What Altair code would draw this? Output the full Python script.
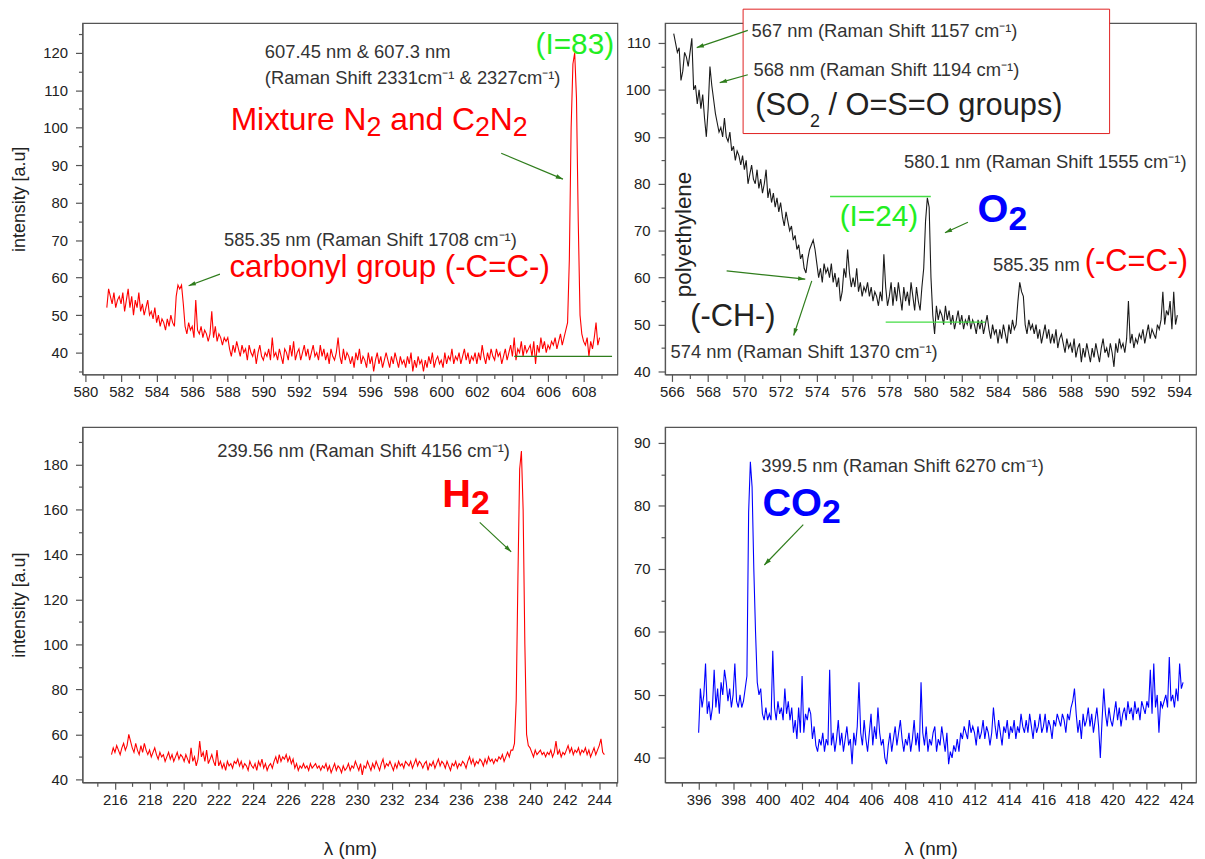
import altair as alt
import pandas as pd

FONT = "Liberation Sans"
GRAY = "#333333"
RED = "#ff0000"
BLUE = "#0000ff"
GREEN = "#22ee22"
DKGREEN = "#2f7d1c"
STEP = 0.1

# ---------------- data (0.1 nm sampling) ----------------
tl_x0 = 581.2
tl_y = [52, 57, 55, 53, 56, 52, 54, 55,
        53, 56, 51, 54, 57, 52, 55, 50, 54, 52,
        56, 51, 53, 50, 52, 54, 50, 51, 49, 52,
        48, 50, 47, 49, 48, 46, 49, 47, 50, 48,
        47, 55, 58, 57, 58, 53, 47, 45, 48, 46,
        47, 44, 54, 46, 45, 47, 44, 46, 45, 43,
        45, 51, 44, 47, 43, 45, 44, 42, 44, 43,
        44, 41, 39, 42, 40, 43, 41, 39, 42, 40,
        41, 38, 42, 40, 39, 41, 37, 40, 42, 39,
        38, 40, 39, 41, 38, 44, 39, 40, 38, 41,
        39, 37, 41, 40, 38, 42, 39, 43, 38, 40,
        41, 38, 40, 42, 39, 41, 38, 40, 42, 39,
        40, 38, 42, 39, 41, 38, 40, 37, 41, 39,
        38, 40, 44, 39, 37, 41, 38, 40, 39, 37,
        39, 36, 40, 38, 41, 37, 39, 38, 36, 40,
        37, 39, 35, 38, 40, 37, 39, 36, 38, 40,
        38, 36, 39, 37, 40, 38, 36, 39, 37, 38,
        36, 39, 37, 40, 35, 38, 36, 39, 37, 38,
        35, 38, 36, 39, 37, 40, 36, 38, 39, 37,
        38, 36, 40, 37, 39, 38, 41, 37, 39, 38,
        40, 37, 39, 41, 38, 40, 37, 39, 38, 40,
        37, 40, 38, 42, 39, 37, 40, 38, 41, 39,
        38, 41, 39, 40, 37, 39, 41, 38, 40, 42,
        39, 44, 38, 41, 40, 43, 39, 42, 40, 41,
        42, 39, 43, 37, 42, 40, 44, 41, 43, 40,
        42, 41, 43, 42, 44, 41, 43, 45, 42, 44,
        46, 48, 65, 100, 117, 120, 108, 75, 50, 45,
        43, 42, 44, 39, 43, 41, 44, 48, 42, 44]

tr_x0 = 566.1
tr_y = [112, 110, 108, 109, 102, 104, 108, 107, 105,
        108, 111, 100, 101, 97, 100, 96, 99, 94, 90,
        96, 105, 101, 98, 95, 93, 91, 92, 90, 94,
        90, 89, 91, 87, 88, 85, 87, 86, 84, 86,
        83, 85, 80, 82, 84, 81, 80, 83, 79, 81,
        78, 80, 83, 77, 79, 76, 78, 75, 77, 74,
        76, 73, 71, 74, 72, 70, 71, 68, 69, 66,
        67, 64, 65, 62, 61, 64, 66, 67, 68, 66,
        63, 60, 62, 59, 63, 61, 62, 60, 63, 59,
        61, 58, 60, 55, 57, 62, 60, 66, 61, 58,
        60, 58, 62, 57, 59, 56, 58, 57, 59, 56,
        58, 55, 57, 56, 54, 57, 55, 65, 58, 54,
        56, 59, 54, 58, 55, 59, 56, 53, 58, 55,
        57, 54, 59, 56, 53, 58, 55, 53, 58, 62,
        72, 77, 75, 60, 52, 48, 54, 51, 53, 52,
        50, 54, 51, 53, 50, 52, 49, 51, 53, 50,
        52, 49, 51, 50, 52, 49, 51, 50, 48, 51,
        49, 51, 48, 50, 52, 49, 47, 50, 48, 49,
        46, 49, 47, 50, 48, 46, 50, 48, 51, 49,
        50, 55, 59, 57, 56, 50, 48, 51, 49, 50,
        48, 50, 47, 49, 46, 48, 50, 47, 49, 46,
        48, 46, 49, 45, 47, 48, 46, 44, 47, 45,
        46, 44, 47, 43, 45, 46, 42, 45, 43, 46,
        44, 42, 45, 43, 46, 44, 42, 45, 47, 44,
        45, 43, 46, 44, 41, 46, 44, 47, 45, 46,
        44, 47, 55, 46, 48, 45, 47, 46, 48, 47,
        49, 46, 48, 50, 47, 49, 48, 47, 50, 49,
        51, 57, 50, 53, 52, 55, 49, 57, 50, 52]

bl_x0 = 215.8
bl_y = [51, 54,
        52, 55, 53, 51, 54, 56, 53, 55, 60, 57,
        54, 52, 56, 53, 51, 55, 52, 56, 53, 51,
        53, 50, 52, 54, 51, 49, 52, 50, 51, 48,
        50, 52, 49, 51, 48, 50, 52, 49, 51, 50,
        48, 51, 49, 47, 54, 48, 50, 46, 49, 57,
        50, 52, 48, 53, 47, 49, 51, 48, 46, 53,
        46, 48, 45, 47, 44, 48, 46, 47, 45, 48,
        47, 49, 46, 48, 45, 47, 46, 44, 48, 46,
        45, 47, 44, 48, 46, 49, 45, 47, 44, 46,
        47, 45, 48, 50, 47, 51, 48, 50, 49, 51,
        48, 50, 47, 49, 45, 47, 44, 46, 45, 47,
        45, 46, 44, 47, 45, 46, 47, 45, 46, 44,
        46, 45, 47, 44, 46, 43, 45, 47, 44, 46,
        45, 43, 46, 44, 45, 47, 44, 46, 45, 48,
        46, 44, 47, 42, 46, 45, 48, 46, 44, 47,
        45, 48, 46, 44, 47, 49, 45, 47, 46, 48,
        46, 44, 47, 45, 48, 46, 47, 45, 48, 47,
        46, 48, 45, 47, 49, 46, 48, 47, 45, 47,
        48, 44, 47, 46, 48, 45, 47, 49, 46, 48,
        47, 45, 48, 46, 44, 47, 46, 48, 45, 47,
        46, 48, 47, 45, 48, 50, 47, 49, 46, 48,
        47, 49, 48, 46, 49, 47, 50, 48, 49, 47,
        49, 48, 50, 49, 51, 48, 50, 52, 50, 53,
        53, 56, 75, 130, 178, 186, 160, 100, 60, 55,
        54, 52, 50, 53, 51, 52, 53, 51, 52, 50,
        52, 51, 53, 50, 52, 57, 51, 53, 50, 52,
        51, 53, 55, 52, 54, 51, 53, 52, 54, 51,
        53, 52, 54, 51, 53, 50, 52, 54, 51, 53,
        55, 58, 52, 51]

br_x0 = 396.0
br_y = [44, 51, 48, 50, 55, 47, 49, 46, 48, 54,
        48, 51, 47, 52, 50, 54, 52, 49, 51, 48,
        50, 55, 49, 48, 50, 48, 49, 51, 53, 79,
        87, 83, 70, 60, 52, 50, 51, 47, 46, 48,
        46, 47, 46, 57, 48, 46, 49, 47, 48, 46,
        51, 47, 49, 46, 48, 44, 46, 43, 48, 44,
        53, 44, 47, 46, 48, 47, 43, 45, 42, 41,
        43, 42, 44, 41, 43, 42, 54, 42, 44, 41,
        43, 46, 42, 44, 41, 43, 45, 42, 43, 39,
        44, 42, 45, 52, 44, 42, 46, 43, 41, 44,
        47, 42, 45, 43, 48, 44, 42, 43, 40, 39,
        42, 44, 41, 43, 45, 42, 44, 46, 43, 41,
        43, 42, 44, 41, 43, 46, 42, 44, 41, 52,
        44, 42, 45, 41, 43, 42, 44, 45, 41, 43,
        42, 45, 43, 41, 44, 39, 41, 40, 42, 41,
        43, 41, 44, 43, 45, 44, 43, 46, 44, 45,
        44, 42, 45, 43, 44, 46, 43, 45, 44, 42,
        44, 48, 45, 43, 46, 44, 42, 45, 44, 46,
        43, 45, 44, 46, 43, 45, 44, 47, 45, 44,
        46, 44, 47, 45, 43, 46, 44, 45, 47, 44,
        45, 47, 44, 46, 45, 43, 46, 45, 47, 46,
        45, 47, 46, 44, 47, 46, 48, 49, 51, 47,
        44, 46, 43, 47, 45, 46, 48, 45, 47, 44,
        46, 48, 45, 40, 46, 51, 47, 45, 48, 46,
        45, 47, 49, 46, 48, 45, 47, 48, 46, 49,
        47, 48, 46, 49, 47, 48, 46, 49, 48, 47,
        49, 48, 54, 47, 55, 48, 50, 44, 49, 48,
        49, 50, 48, 56, 49, 50, 48, 51, 49, 55,
        51, 52]

SUP = "cm\u207b\u00b9"


def panel(x0, ys, color, xdom, ydom, xvals, yvals, ymaj, width, height,
          xtitle, ytitle, texts, arrows, hlines, boxes):
    xs = [round(x0 + i * STEP, 2) for i in range(len(ys))]
    df = pd.DataFrame({"x": xs, "y": ys})
    xsc = alt.Scale(domain=xdom, nice=False, zero=False)
    ysc = alt.Scale(domain=ydom, nice=False, zero=False)
    xax = alt.Axis(values=xvals, format="d",
                   labelExpr="datum.value % 2 === 0 ? datum.label : ''",
                   tickSize={"condition": {"test": "datum.value % 2 !== 0", "value": 4}, "value": 7},
                   labelPadding=3, titlePadding=33, titleFontSize=19, title=xtitle)
    yax = alt.Axis(values=yvals, format="d",
                   labelExpr=f"datum.value % {ymaj} === 0 ? datum.label : ''",
                   tickSize={"condition": {"test": f"datum.value % {ymaj} !== 0", "value": 4}, "value": 7},
                   labelPadding=8, titlePadding=14, titleFontSize=18, title=ytitle)

    def X(f):
        return alt.X(f"{f}:Q", scale=xsc, axis=xax)

    def Y(f):
        return alt.Y(f"{f}:Q", scale=ysc, axis=yax)

    layers = []
    for b in boxes:
        d = pd.DataFrame({"x": [b[0]], "x2": [b[1]], "y": [b[2]], "y2": [b[3]]})
        layers.append(alt.Chart(d).mark_rect(fill="white", stroke="#e02020", strokeWidth=1)
                      .encode(x=X("x"), x2="x2:Q", y=Y("y"), y2="y2:Q"))
    layers.append(alt.Chart(df).mark_line(color=color, strokeWidth=1.1).encode(x=X("x"), y=Y("y")))
    for h in hlines:
        d = pd.DataFrame({"x": [h[0]], "x2": [h[1]], "y": [h[2]]})
        layers.append(alt.Chart(d).mark_rule(color=h[3], strokeWidth=1.3)
                      .encode(x=X("x"), x2="x2:Q", y=Y("y")))
    for a in arrows:
        d = pd.DataFrame({"x": [a[0]], "y": [a[1]], "x2": [a[2]], "y2": [a[3]]})
        layers.append(alt.Chart(d).mark_rule(color=DKGREEN, strokeWidth=1.2)
                      .encode(x=X("x"), y=Y("y"), x2="x2:Q", y2="y2:Q"))
        layers.append(alt.Chart(d).mark_point(shape="M0,0L-0.55,1.8L0.55,1.8Z", filled=True,
                                              size=64, angle=a[4], color=DKGREEN, opacity=1,
                                              strokeWidth=0)
                      .encode(x=X("x2"), y=Y("y2")))
    for t in texts:
        x, y, s, size, col = t[0], t[1], t[2], t[3], t[4]
        opt = t[5] if len(t) > 5 else {}
        d = pd.DataFrame({"x": [x], "y": [y], "t": [s]})
        kw = dict(align=opt.get("align", "left"), baseline="alphabetic", fontSize=size, color=col,
                  font=FONT, fontWeight=opt.get("weight", "normal"),
                  dx=opt.get("dx", 0), dy=opt.get("dy", 0))
        if "angle" in opt:
            kw["angle"] = opt["angle"]
        layers.append(alt.Chart(d).mark_text(**kw).encode(x=X("x"), y=Y("y"), text="t:N"))
    return alt.layer(*layers).properties(width=width, height=height)


# ---------------- top-left ----------------
tl_texts = [
    (590.08, 118.6, "607.45 nm & 607.3 nm", 18.5, GRAY),
    (590.08, 111.7, f"(Raman Shift 2331{SUP} & 2327{SUP})", 18.5, GRAY),
    (605.3, 119.7, "(I=83)", 30, GREEN),
    (588.16, 99.5, "Mixture N", 32, RED),
    (588.16, 99.5, "2", 27, RED, {"dx": 136.9, "dy": 6}),
    (588.16, 99.5, "and C", 32, RED, {"dx": 160.8}),
    (588.16, 99.5, "2", 27, RED, {"dx": 246.2, "dy": 6}),
    (588.16, 99.5, "N", 32, RED, {"dx": 261.2}),
    (588.16, 99.5, "2", 27, RED, {"dx": 284.3, "dy": 6}),
    (587.79, 68.4, f"585.35 nm (Raman Shift 1708 {SUP})", 18.5, GRAY),
    (588.09, 60.05, "carbonyl group (-C=C-)", 31.5, RED),
]
tl_arrows = [(603.37, 93.17, 606.84, 86.28, 112.7), (587.56, 60.93, 585.80, 57.83, 249.7)]
tl_hlines = [(604.1, 609.6, 39.0, DKGREEN)]
tl = panel(tl_x0, tl_y, RED, [579.83, 609.9], [34.17, 127.9], list(range(580, 610)),
           list(range(35, 130, 5)), 10, 539, 354, None, "intensity [a.u]",
           tl_texts, tl_arrows, tl_hlines, [])

# ---------------- top-right ----------------
tr_texts = [
    (570.4, 111.27, f"567 nm (Raman Shift 1157 {SUP})", 18.5, GRAY),
    (570.5, 103.02, f"568 nm (Raman Shift 1194 {SUP})", 18.5, GRAY),
    (570.6, 94.56, "(SO", 31, "#222222"),
    (570.6, 94.56, "2", 18, "#222222", {"dx": 55.1, "dy": 12}),
    (570.6, 94.56, "/ O=S=O groups)", 31, "#222222", {"dx": 73.7}),
    (578.81, 83.29, f"580.1 nm (Raman Shift 1555 {SUP})", 18.5, GRAY),
    (575.26, 70.94, "(I=24)", 30, GREEN),
    (582.87, 71.87, "O", 40, BLUE, {"weight": "bold"}),
    (582.87, 71.87, "2", 34, BLUE, {"weight": "bold", "dx": 31.1, "dy": 8}),
    (583.72, 61.43, "585.35 nm", 18.5, GRAY),
    (588.79, 61.43, "(-C=C-)", 31, RED),
    (567.07, 69.19, "polyethylene", 22.5, "#222222", {"angle": 270, "align": "center"}),
    (567.01, 49.8, "(-CH-)", 31, "#222222"),
    (565.92, 42.9, f"574 nm (Raman Shift 1370 {SUP})", 18.5, GRAY),
]
tr_arrows = [
    (570.19, 112.69, 567.37, 109.01, 251.3),
    (570.19, 103.23, 568.64, 101.54, 254.2),
    (582.34, 71.79, 581.07, 69.55, 245.4),
    (569.02, 61.43, 573.36, 59.67, 96.0),
    (573.72, 59.31, 572.72, 47.68, 198.2),
]
tr_hlines = [(574.73, 580.29, 77.29, "#44dd44"), (577.80, 583.29, 50.52, "#44dd44")]
tr_boxes = [(569.93, 590.16, 90.7, 117.2)]
tr = panel(tr_x0, tr_y, "#1a1a1a", [565.62, 594.93], [39.37, 114.23], list(range(566, 595)),
           list(range(40, 115, 5)), 10, 535, 354, None, None,
           tr_texts, tr_arrows, tr_hlines, tr_boxes)

# ---------------- bottom-left ----------------
bl_texts = [
    (221.91, 183.4, f"239.56 nm (Raman Shift 4156 {SUP})", 18.5, GRAY),
    (234.93, 161.3, "H", 40, RED, {"weight": "bold"}),
    (234.93, 161.3, "2", 34, RED, {"weight": "bold", "dx": 28.9, "dy": 8}),
]
bl_arrows = [(237.09, 154.27, 238.91, 141.17, 133.2)]
bl = panel(bl_x0, bl_y, RED, [214.12, 245.05], [38.65, 196.64], list(range(215, 246)),
           list(range(40, 200, 10)), 20, 539, 358, "\u03bb (nm)", "intensity [a.u]",
           bl_texts, bl_arrows, [], [])

# ---------------- bottom-right ----------------
br_texts = [
    (399.63, 85.43, f"399.5 nm (Raman Shift 6270 {SUP})", 18.5, GRAY),
    (399.7, 78.45, "CO", 40, BLUE, {"weight": "bold"}),
    (399.7, 78.45, "2", 34, BLUE, {"weight": "bold", "dx": 60.0, "dy": 7}),
]
br_arrows = [(402.07, 77.03, 399.81, 70.62, 224.0)]
br = panel(br_x0, br_y, BLUE, [394.05, 424.85], [36.12, 92.52], list(range(395, 425)),
           list(range(40, 95, 5)), 10, 535, 358, "\u03bb (nm)", None,
           br_texts, br_arrows, [], [])

chart = alt.concat(tl, tr, bl, br, columns=2, spacing={"row": 53, "column": 48},
                   bounds="flush").properties(
    padding={"left": 2, "top": -4, "right": 0, "bottom": 0},
    background="white",
).configure(font=FONT).configure_view(
    stroke="#555555", strokeWidth=1.2
).configure_axis(
    domainColor="#555555", domainWidth=1.2, tickColor="#555555", tickWidth=1.2,
    labelColor="#222222", labelFont=FONT, labelFontSize=15, labelOverlap=False, labelFlush=False,
    titleFont=FONT, titleFontWeight="normal", titleColor="#222222", grid=False,
)

chart.save("out.html", embed_options={"renderer": "svg", "actions": False})
